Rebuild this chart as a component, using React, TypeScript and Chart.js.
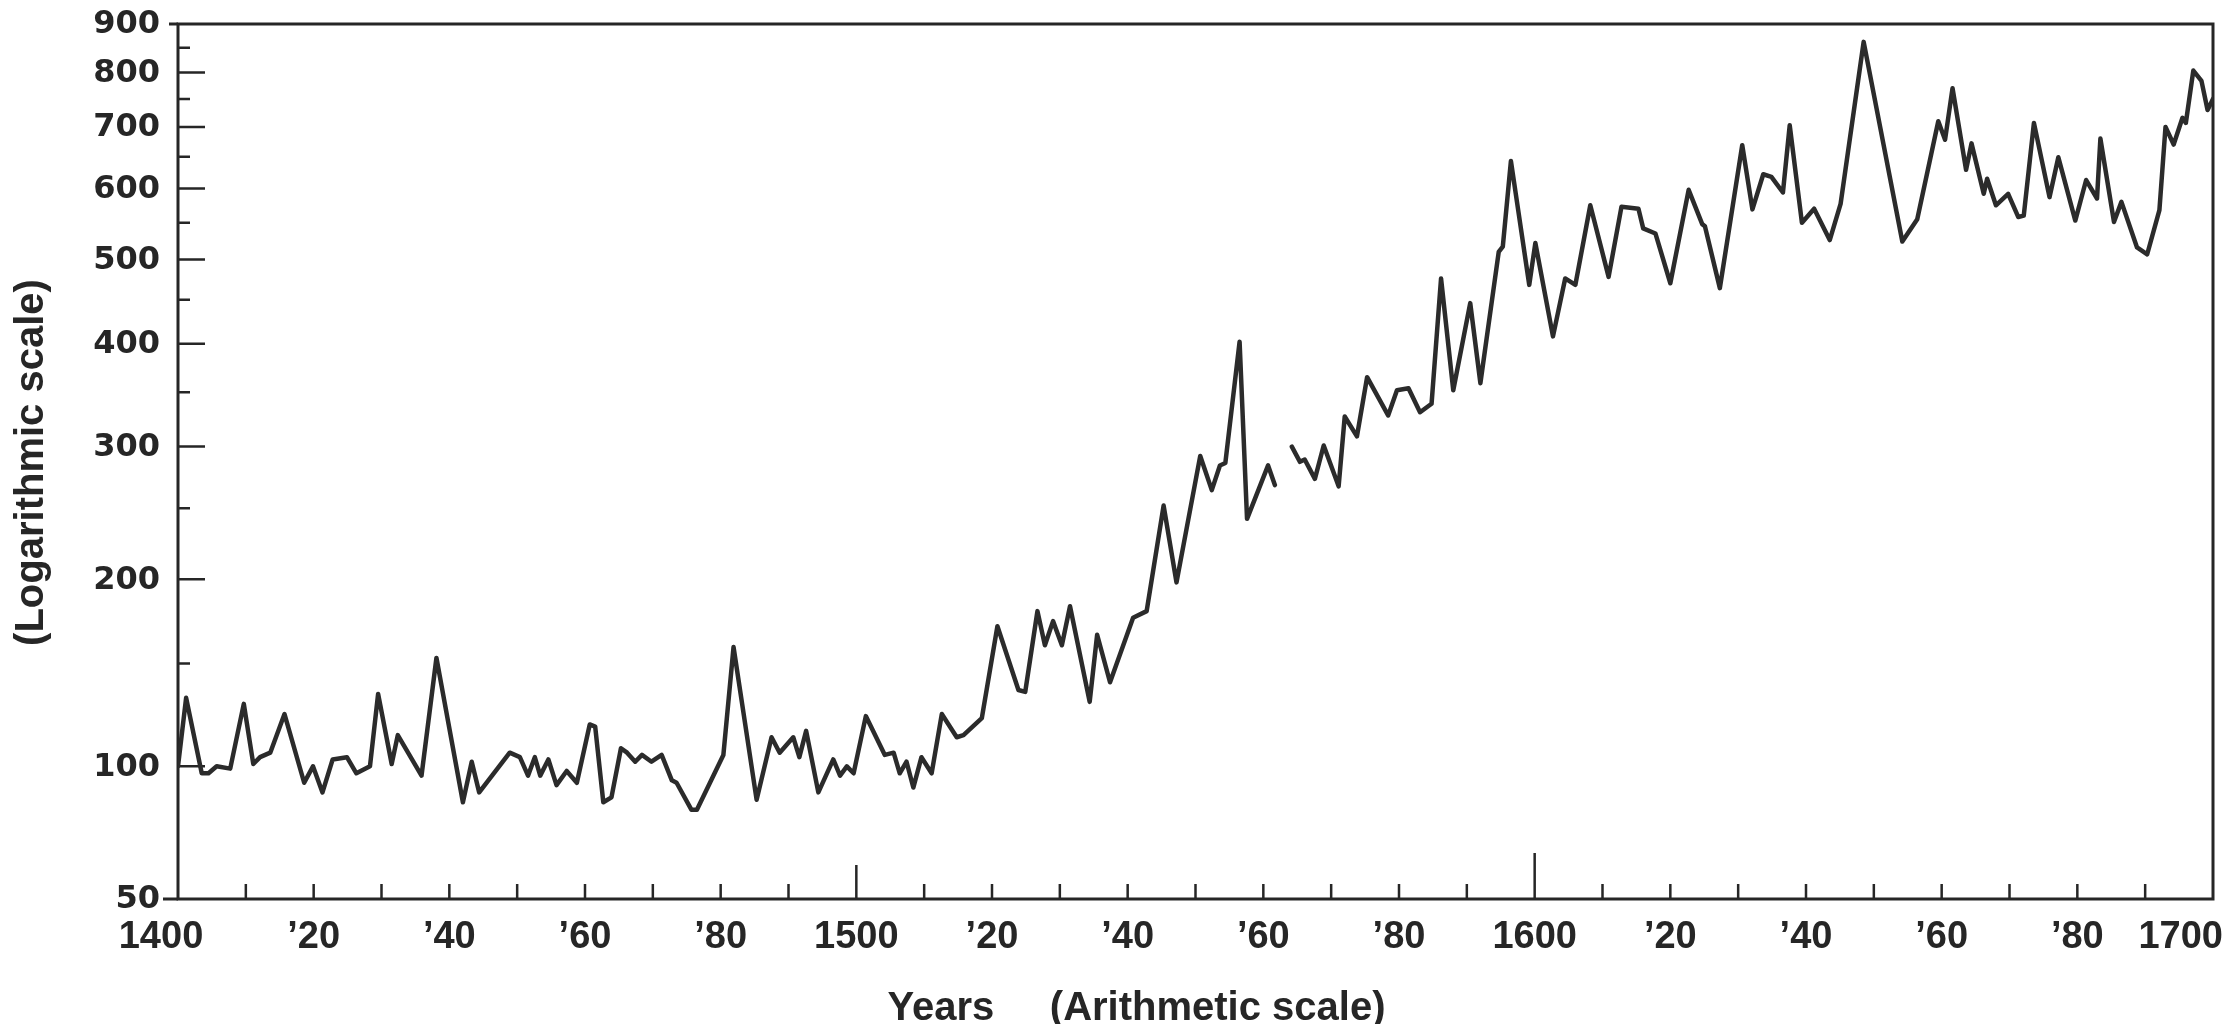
import React, { useEffect, useRef } from 'react';
import { Chart, Scale, registerables } from 'chart.js';

// ---- data ----
const YEARS_A: number[] = [
  1400, 1401.2, 1403.5, 1404.5, 1405.7, 1407.7, 1409.7, 1411.1, 1412.1, 1413.6,
  1415.7, 1418.6, 1419.9, 1421.3, 1422.8, 1424.9, 1426.3, 1428.3, 1429.5, 1431.5,
  1432.4, 1435.9, 1438.1, 1442.0, 1443.3, 1444.4, 1448.9, 1450.4, 1451.6, 1452.6,
  1453.4, 1454.6, 1455.8, 1457.3, 1458.8, 1460.7, 1461.5, 1462.7, 1463.9, 1465.3,
  1466.2, 1467.4, 1468.4, 1469.8, 1471.3, 1472.8, 1473.5, 1475.7, 1476.5, 1480.4,
  1481.9, 1485.3, 1487.5, 1488.7, 1490.7, 1491.6, 1492.6, 1494.4, 1496.6, 1497.6,
  1498.6, 1499.6, 1501.4, 1504.2, 1505.5, 1506.4, 1507.4, 1508.4, 1509.6, 1511.1,
  1512.6, 1514.8, 1515.8, 1518.5, 1520.8, 1523.9, 1524.9, 1526.7, 1527.8, 1529.0,
  1530.3, 1531.5, 1534.4, 1535.5, 1537.4, 1540.8, 1542.8, 1545.3, 1547.2, 1550.7,
  1552.4, 1553.6, 1554.4, 1556.5, 1557.6, 1560.7, 1561.7,
];
const INDEX_A: number[] = [
  100, 132, 97, 97, 100, 99, 129, 101, 104, 106,
  124, 93, 100, 89, 103, 104, 97, 100, 134, 101,
  114, 96, 153, 85, 102, 89, 106, 104, 96, 104,
  96, 103, 92, 98, 93, 119, 118, 85, 87, 108,
  106, 102, 105, 102, 105, 94, 93, 82, 82, 105,
  159, 86, 113, 106, 113, 104, 116, 89, 103, 96,
  100, 97, 123, 105, 106, 97, 102, 91, 104, 97,
  124, 113, 114, 122, 171, 136, 135, 180, 160, 174,
  160, 183, 130, 166, 140, 176, 180, 252, 198, 292,
  264, 284, 286, 402, 242, 284, 268,
];
const GAP_YEAR = 1563;
const YEARS_B: number[] = [
  1564.2, 1565.4, 1566.1, 1567.6, 1568.9, 1571.1, 1572.0, 1573.8, 1575.3, 1578.4,
  1579.7, 1581.4, 1583.1, 1584.8, 1586.2, 1588.0, 1590.5, 1592.0, 1594.7, 1595.3,
  1596.5, 1599.2, 1600.1, 1602.7, 1604.5, 1606.0, 1608.2, 1610.9, 1612.8, 1615.3,
  1616.0, 1617.8, 1620.0, 1622.7, 1624.7, 1625.1, 1627.3, 1630.6, 1632.1, 1633.7,
  1634.9, 1636.6, 1637.6, 1639.4, 1641.2, 1643.5, 1645.1, 1648.5, 1654.2, 1656.4,
  1659.5, 1660.5, 1661.6, 1663.6, 1664.4, 1666.2, 1666.7, 1668.0, 1669.8, 1671.3,
  1672.1, 1673.6, 1675.9, 1677.2, 1679.7, 1681.3, 1682.9, 1683.4, 1685.4, 1686.5,
  1688.8, 1690.3, 1692.1, 1693.0, 1694.2, 1695.5, 1696.0, 1697.1, 1698.3, 1699.2,
  1700,
];
const INDEX_B: number[] = [
  300, 287, 289, 273, 301, 267, 327, 309, 365, 328,
  352, 354, 331, 339, 476, 352, 446, 359, 510, 517,
  643, 468, 522, 408, 476, 468, 575, 478, 573, 570,
  542, 535, 470, 598, 548, 545, 464, 669, 569, 622,
  618, 594, 703, 550, 570, 526, 577, 862, 524, 555,
  710, 678, 770, 629, 672, 592, 615, 575, 592, 558,
  560, 707, 587, 649, 553, 613, 585, 680, 551, 580,
  516, 507, 568, 700, 670, 716, 707, 804, 784, 730,
  750,
];

// ---- axes ----
const X_MIN = 1400;
const X_MAX = 1700;
const Y_MIN = 50;
const Y_MAX = 900;
const Y_LABELS: number[] = [50, 100, 200, 300, 400, 500, 600, 700, 800, 900];
const Y_INNER_TICKS: number[] = [100, 200, 300, 400, 500, 600, 700, 800];
const Y_MINOR_TICKS: number[] = [150, 250, 350, 450, 550, 650, 750, 850];
const X_TICK_YEARS: number[] = [
  1410, 1420, 1430, 1440, 1450, 1460, 1470, 1480, 1490, 1500,
  1510, 1520, 1530, 1540, 1550, 1560, 1570, 1580, 1590, 1600,
  1610, 1620, 1630, 1640, 1650, 1660, 1670, 1680, 1690,
];
const X_LABEL_YEARS: number[] = [
  1400, 1420, 1440, 1460, 1480, 1500, 1520, 1540, 1560, 1580, 1600, 1620, 1640, 1660, 1680, 1700,
];
const X_LABELS: string[] = [
  '1400', '\u201920', '\u201940', '\u201960', '\u201980', '1500', '\u201920', '\u201940',
  '\u201960', '\u201980', '1600', '\u201920', '\u201940', '\u201960', '\u201980', '1700',
];
const X_TITLE = 'Years     (Arithmetic scale)';
const Y_TITLE = '(Logarithmic scale)';

// the printed "logarithmic" axis is spaced as log(value + 100)
const LOG_SHIFT = 100;

class ShiftedLogScale extends (Scale as any) {
  static id = 'shiftedLog';
  static defaults = {};
  _lo = 0;
  _span = 1;
  determineDataLimits() {
    this.min = this.options.min;
    this.max = this.options.max;
  }
  buildTicks() {
    return Y_LABELS.map((v) => ({ value: v }));
  }
  configure() {
    super.configure();
    this._lo = Math.log10(this.min + LOG_SHIFT);
    this._span = Math.log10(this.max + LOG_SHIFT) - this._lo;
  }
  getPixelForValue(value: any) {
    if (value === null || value === undefined || isNaN(value)) return NaN;
    return this.getPixelForDecimal((Math.log10(value + LOG_SHIFT) - this._lo) / this._span);
  }
  getValueForPixel(pixel: number) {
    return Math.pow(10, this._lo + this.getDecimalForPixel(pixel) * this._span) - LOG_SHIFT;
  }
}

Chart.register(...registerables, ShiftedLogScale as any);

const INK = '#262626';
const LINE = '#2b2b2b';

const axisFurniture = {
  id: 'axisFurniture',
  beforeDatasetsDraw(chart: any) {
    const { ctx, chartArea: a, scales } = chart;
    const xs = scales.x;
    const ys = scales.y;
    ctx.save();
    ctx.strokeStyle = INK;
    ctx.lineCap = 'butt';
    ctx.lineWidth = 3;
    ctx.beginPath();
    ctx.rect(a.left, a.top, a.right - a.left, a.bottom - a.top);
    ctx.stroke();
    // outward stubs at the top and bottom labels
    ctx.beginPath();
    const pTop = ys.getPixelForValue(Y_MAX);
    const pBot = ys.getPixelForValue(Y_MIN);
    ctx.moveTo(a.left - 9, pTop);
    ctx.lineTo(a.left, pTop);
    ctx.moveTo(a.left - 15, pBot);
    ctx.lineTo(a.left, pBot);
    ctx.stroke();
    ctx.lineWidth = 2.5;
    ctx.beginPath();
    for (const v of Y_INNER_TICKS) {
      const py = ys.getPixelForValue(v);
      ctx.moveTo(a.left, py);
      ctx.lineTo(a.left + 27, py);
    }
    for (const v of Y_MINOR_TICKS) {
      const py = ys.getPixelForValue(v);
      ctx.moveTo(a.left, py);
      ctx.lineTo(a.left + 12, py);
    }
    for (const yr of X_TICK_YEARS) {
      const px = xs.getPixelForValue(yr);
      const len = yr === 1600 ? 46 : yr === 1500 ? 34 : 15;
      ctx.moveTo(px, a.bottom);
      ctx.lineTo(px, a.bottom - len);
    }
    ctx.stroke();
    ctx.restore();
  },
  afterDraw(chart: any) {
    const { ctx, chartArea: a, scales } = chart;
    const xs = scales.x;
    const ys = scales.y;
    ctx.save();
    ctx.fillStyle = INK;
    // y tick labels
    ctx.font = 'bold 32px "DejaVu Sans"';
    ctx.textAlign = 'right';
    ctx.textBaseline = 'middle';
    for (const v of Y_LABELS) {
      ctx.fillText(String(v), a.left - 18, ys.getPixelForValue(v) + 1);
    }
    // x tick labels
    ctx.font = 'bold 38px "Liberation Sans"';
    ctx.textBaseline = 'alphabetic';
    X_LABEL_YEARS.forEach((yr, i) => {
      const px = xs.getPixelForValue(yr);
      if (i === 0) {
        ctx.textAlign = 'center';
        ctx.fillText(X_LABELS[i], px - 17, a.bottom + 49);
      } else if (i === X_LABEL_YEARS.length - 1) {
        ctx.textAlign = 'right';
        ctx.fillText(X_LABELS[i], px + 10, a.bottom + 49);
      } else {
        ctx.textAlign = 'center';
        ctx.fillText(X_LABELS[i], px, a.bottom + 49);
      }
    });
    // axis titles
    ctx.font = 'bold 40px "Liberation Sans"';
    ctx.textAlign = 'center';
    ctx.textBaseline = 'alphabetic';
    ctx.fillText(X_TITLE, (a.left + a.right) / 2 - 59, a.bottom + 121);
    ctx.save();
    ctx.translate(a.left - 146, (a.top + a.bottom) / 2 + 1);
    ctx.rotate(-Math.PI / 2);
    ctx.textBaseline = 'middle';
    ctx.fillText(Y_TITLE, 0, 0);
    ctx.restore();
    ctx.restore();
  },
};

export default function App() {
  const canvasRef = useRef<HTMLCanvasElement | null>(null);

  useEffect(() => {
    const canvas = canvasRef.current;
    if (!canvas) return;
    const points: { x: number; y: number | null }[] = [];
    YEARS_A.forEach((yr, i) => points.push({ x: yr, y: INDEX_A[i] }));
    points.push({ x: GAP_YEAR, y: null });
    YEARS_B.forEach((yr, i) => points.push({ x: yr, y: INDEX_B[i] }));

    const chart = new Chart(canvas, {
      type: 'line',
      data: {
        datasets: [
          {
            label: 'Index',
            data: points as any,
            borderColor: LINE,
            borderWidth: 4.5,
            borderJoinStyle: 'round',
            borderCapStyle: 'round',
            pointRadius: 0,
            pointHoverRadius: 0,
            tension: 0,
            spanGaps: false,
            fill: false,
          },
        ],
      },
      options: {
        responsive: false,
        maintainAspectRatio: false,
        animation: false,
        devicePixelRatio: 1,
        layout: { padding: { left: 170, right: 11, top: 16, bottom: 125 } },
        plugins: { legend: { display: false }, tooltip: { enabled: false } },
        scales: {
          x: { type: 'linear', min: X_MIN, max: X_MAX, display: false },
          y: { type: 'shiftedLog' as any, min: Y_MIN, max: Y_MAX, display: false },
        },
      } as any,
      plugins: [axisFurniture as any],
    });
    return () => chart.destroy();
  }, []);

  return <canvas ref={canvasRef} width={2216} height={1016} style={{ display: 'block' }} />;
}
